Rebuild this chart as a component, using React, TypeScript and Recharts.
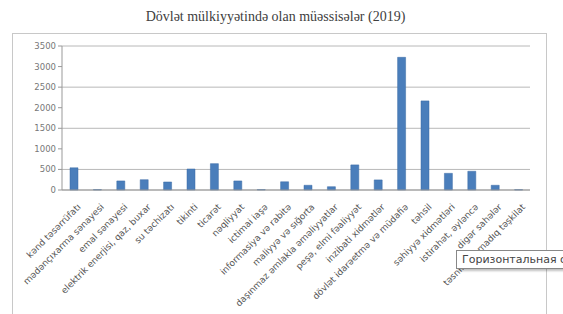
import React from 'react';
import { BarChart, Bar, XAxis, YAxis, CartesianGrid } from 'recharts';

const categories = [
    'kənd təsərrüfatı',
    'mədənçıxarma sənayesi',
    'emal sənayesi',
    'elektrik enerjisi, qaz, buxar',
    'su təchizatı',
    'tikinti',
    'ticarət',
    'nəqliyyat',
    'ictimai iaşə',
    'informasiya və rabitə',
    'maliyyə və sığorta',
    'daşınmaz əmlakla əməliyyatlar',
    'peşə, elmi fəaliyyət',
    'inzibati xidmətlər',
    'dövlət idarəetmə və müdafiə',
    'təhsil',
    'səhiyyə xidmətləri',
    'istirahət, əyləncə',
    'digər sahələr',
    'təsnif olunmadıq təşkilat',
];

const values = [540, 10, 220, 250, 195, 510, 640, 220, 10, 200, 115, 80, 610, 245, 3225, 2165, 405, 455, 115, 8];

const yTicks = [0, 500, 1000, 1500, 2000, 2500, 3000, 3500];

const data = categories.map((name, i) => ({ name, value: values[i] }));

export default function App() {
    return (
        <div style={{ position: 'absolute', left: 0, top: 0, width: 563, height: 314, overflow: 'hidden', background: '#fff' }}>
            <div style={{ position: 'absolute', left: 12, top: 33, width: 533, height: 300, border: '1px solid #c8c8c8' }} />
            <div
                style={{
                    position: 'absolute', left: -6, top: 9, width: 563, textAlign: 'center',
                    fontFamily: '"Liberation Serif", serif', fontSize: 14, color: '#404040',
                }}
            >
                Dövlət mülkiyyətində olan müəssisələr (2019)
            </div>
            <div style={{ position: 'absolute', left: 0, top: 0 }}>
                <BarChart width={563} height={314} data={data} margin={{ top: 46, right: 33, bottom: 0, left: 10 }} barSize={8}>
                    <CartesianGrid vertical={false} stroke="#b8b8b8" />
                    <XAxis
                        dataKey="name"
                        interval={0}
                        height={124}
                        tickLine={false}
                        axisLine={{ stroke: '#999' }}
                        angle={-45}
                        textAnchor="end"
                        tick={{ fontSize: 9, fill: '#555', fontFamily: '"DejaVu Sans", sans-serif', dy: 5, dx: 3 }}
                    />
                    <YAxis
                        width={52}
                        domain={[0, 3500]}
                        ticks={yTicks}
                        tickSize={4}
                        tickLine={{ stroke: '#999' }}
                        axisLine={{ stroke: '#999' }}
                        tick={{ fontSize: 8.5, fill: '#777', fontFamily: '"DejaVu Sans", sans-serif' }}
                    />
                    <Bar dataKey="value" fill="#4a7ebb" stroke="#3a6aa5" strokeWidth={0.5} isAnimationActive={false} />
                </BarChart>
            </div>
            <div
                style={{
                    position: 'absolute', left: 456, top: 250, height: 17, paddingLeft: 5, paddingRight: 4,
                    whiteSpace: 'nowrap', background: '#fff', border: '1px solid #888',
                    boxShadow: '2px 2px 2px rgba(0,0,0,0.25)',
                    fontFamily: '"DejaVu Sans", sans-serif', fontSize: 11, lineHeight: '17px', color: '#444',
                }}
            >
                Горизонтальная ось (категорий)
            </div>
        </div>
    );
}
